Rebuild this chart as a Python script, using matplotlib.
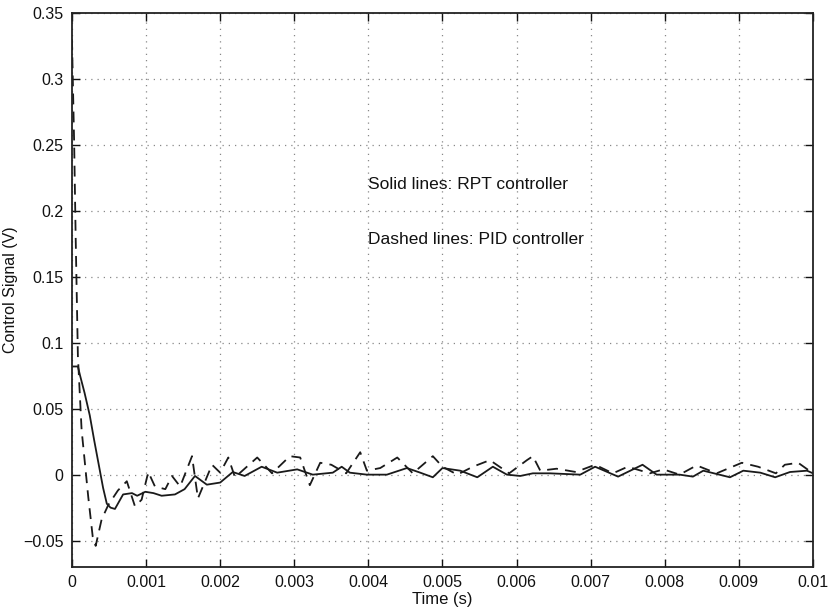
import matplotlib
matplotlib.use("Agg")
import matplotlib.pyplot as plt

plt.rcParams['font.family'] = ['Liberation Sans', 'DejaVu Sans']

# RPT controller (solid)
solid_t = [0, 0.00008, 0.00011, 0.00017, 0.00024, 0.00030, 0.00036, 0.00042, 0.00047,
           0.00052, 0.00058, 0.00064, 0.00069, 0.00081, 0.00088, 0.00099, 0.00110,
           0.00121, 0.00139, 0.00152, 0.00166, 0.00182, 0.00200, 0.00217, 0.00233,
           0.00256, 0.00277, 0.00304, 0.00325, 0.00352, 0.00364, 0.00375, 0.00398,
           0.00425, 0.00452, 0.00470, 0.00487, 0.00500, 0.00524, 0.00547, 0.00568,
           0.00587, 0.00605, 0.00622, 0.00645, 0.00686, 0.00706, 0.00737, 0.00770,
           0.00789, 0.00820, 0.00838, 0.00852, 0.00888, 0.00906, 0.00929, 0.00949,
           0.00969, 0.00992, 0.01]
solid_v = [0.082, 0.082, 0.075, 0.062, 0.045, 0.026, 0.008, -0.010, -0.022,
           -0.025, -0.026, -0.020, -0.015, -0.014, -0.016, -0.013, -0.014,
           -0.016, -0.015, -0.011, -0.001, -0.0076, -0.006, 0.002, -0.001,
           0.006, 0.0015, 0.004, 0.0, 0.0015, 0.006, 0.0015, 0.0,
           0.0, 0.005, 0.0015, -0.002, 0.005, 0.003, -0.002, 0.006,
           0.0, -0.001, 0.001, 0.001, 0.0, 0.006, -0.0015, 0.0075,
           0.0, 0.0, -0.0015, 0.003, -0.002, 0.003, 0.0015, -0.002,
           0.002, 0.003, 0.001]

# PID controller (dashed)
dashed_t = [0, 0.00003, 0.00005, 0.00008, 0.00013, 0.00022, 0.00028, 0.00032, 0.00040,
            0.00049, 0.00062, 0.00074, 0.00085, 0.00094, 0.00103, 0.00112, 0.00126,
            0.00135, 0.00146, 0.00162, 0.00170, 0.00189, 0.00200, 0.00211, 0.00220,
            0.00250, 0.00270, 0.00294, 0.00308, 0.00321, 0.00335, 0.00350, 0.00370,
            0.00389, 0.00398, 0.00416, 0.00439, 0.00460, 0.00487, 0.00500, 0.00520,
            0.00541, 0.00564, 0.00590, 0.00614, 0.00622, 0.00632, 0.00654, 0.00680,
            0.00706, 0.00730, 0.00750, 0.00780, 0.00798, 0.00820, 0.00843, 0.00870,
            0.00904, 0.00926, 0.00950, 0.00962, 0.00980, 0.01]
dashed_v = [0.33, 0.25, 0.18, 0.09, 0.034, -0.017, -0.047, -0.054, -0.034,
            -0.023, -0.012, -0.005, -0.024, -0.019, 0.002, -0.009, -0.011,
            -0.001, -0.009, 0.014, -0.018, 0.0075, 0.0015, 0.013, -0.002,
            0.013, 0.001, 0.014, 0.013, -0.008, 0.009, 0.0075, 0.001,
            0.017, 0.003, 0.005, 0.013, 0.001, 0.014, 0.006, 0.0,
            0.006, 0.011, 0.001, 0.011, 0.014, 0.003, 0.0045, 0.002,
            0.0075, 0.001, 0.006, 0.001, 0.004, 0.0, 0.007, 0.001,
            0.009, 0.006, 0.001, 0.0075, 0.009, 0.001]

x_ticks = [0, 0.001, 0.002, 0.003, 0.004, 0.005, 0.006, 0.007, 0.008, 0.009, 0.01]
x_labels = ['0', '0.001', '0.002', '0.003', '0.004', '0.005', '0.006', '0.007', '0.008', '0.009', '0.01']
y_ticks = [-0.05, 0, 0.05, 0.1, 0.15, 0.2, 0.25, 0.3, 0.35]
y_labels = ['\u22120.05', '0', '0.05', '0.1', '0.15', '0.2', '0.25', '0.3', '0.35']

fig = plt.figure(figsize=(8.31, 6.09), dpi=100)
ax = fig.add_axes([0.0866, 0.069, 0.8917, 0.9097])

lc = '#1a1a1a'
ax.plot(solid_t, solid_v, color=lc, lw=1.3, solid_joinstyle='round')
ax.plot(dashed_t, dashed_v, color=lc, lw=1.3, linestyle=(0, (6, 4)))

ax.set_xlim(0, 0.01)
ax.set_ylim(-0.07, 0.35)
ax.set_xticks(x_ticks)
ax.set_xticklabels(x_labels)
ax.set_yticks(y_ticks)
ax.set_yticklabels(y_labels)
ax.tick_params(direction='in', length=6, width=1, top=True, right=True,
               labelsize=11.5, colors='#111111', pad=6)
ax.grid(True, linestyle=(0, (1, 4)), color='#888888', linewidth=0.9)
for s in ax.spines.values():
    s.set_linewidth(1.3)
    s.set_color('#222222')

ax.set_xlabel('Time (s)', fontsize=12, labelpad=1, color='#111111')
ax.set_ylabel('Control Signal (V)', fontsize=11.5, labelpad=4, color='#111111')

ax.text(0.004, 0.22, 'Solid lines: RPT controller', fontsize=12.5, va='center', ha='left', color='#111111')
ax.text(0.004, 0.178, 'Dashed lines: PID controller', fontsize=12.5, va='center', ha='left', color='#111111')

fig.savefig('out.png', dpi=100)
